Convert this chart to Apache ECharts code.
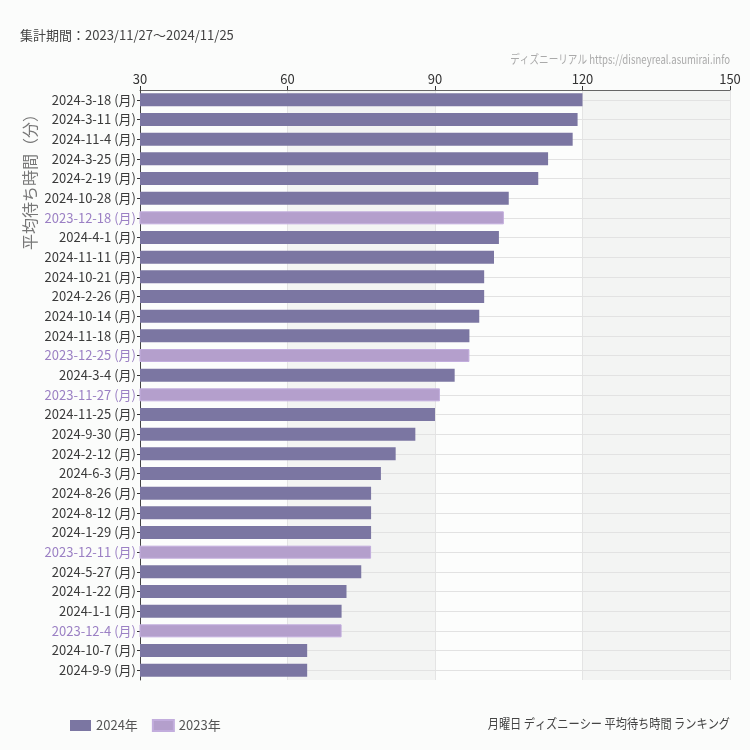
<!DOCTYPE html>
<html>
<head>
<meta charset="utf-8">
<script src="https://cdn.jsdelivr.net/npm/echarts@6/dist/echarts.min.js"></script>
<style>html,body{margin:0;padding:0;background:#fbfcfb;}#c{width:750px;height:750px;}</style>
</head>
<body>
<div id="c"></div>
<script>
const dates = ['2024-3-18','2024-3-11','2024-11-4','2024-3-25','2024-2-19','2024-10-28','2023-12-18','2024-4-1','2024-11-11','2024-10-21','2024-2-26','2024-10-14','2024-11-18','2023-12-25','2024-3-4','2023-11-27','2024-11-25','2024-9-30','2024-2-12','2024-6-3','2024-8-26','2024-8-12','2024-1-29','2023-12-11','2024-5-27','2024-1-22','2024-1-1','2023-12-4','2024-10-7','2024-9-9'];
const waits = [120,119,118,113,111,105,104,103,102,100,100,99,97,97,94,91,90,86,82,79,77,77,77,77,75,72,71,71,64,64];
const xTicks = [30,60,90,120,150];
const seriesNames = ['2024年','2023年'];

const FONT = '"Noto Sans CJK JP", "Noto Sans", sans-serif';
const C24 = '#7b76a2', C23 = '#b49fcc';
const labels = dates.map(d => d + ' (月)');
const is23 = dates.map(d => d.startsWith('2023'));
const s24 = waits.map((v,i) => is23[i] ? '-' : v);
const s23 = waits.map((v,i) => is23[i] ? v : '-');

const chart = echarts.init(document.getElementById('c'), null, {renderer:'canvas'});
chart.setOption({
  backgroundColor: '#fbfcfb',
  animation: false,
  textStyle: {fontFamily: FONT},
  grid: {left: 140, right: 20, top: 90, bottom: 70, containLabel: false},
  legend: {
    data: seriesNames, left: 65, bottom: 13, itemWidth: 21, itemHeight: 11, itemGap: 14,
    textStyle: {fontSize: 13, color: '#555', fontFamily: FONT}, icon: 'rect'
  },
  graphic: [
    {type:'text', left: 20, top: 29, style:{text:'集計期間：2023/11/27〜2024/11/25', fill:'#444', font:'13px ' + FONT}},
    {type:'text', right: 20, top: 53, scaleX: 0.8, style:{text:'ディズニーリアル https://disneyreal.asumirai.info', fill:'#aaa', font:'12px ' + FONT}},
    {type:'text', right: 20, top: 717, scaleX: 0.86, style:{text:'月曜日 ディズニーシー 平均待ち時間 ランキング', fill:'#444', font:'13px ' + FONT}},
    {type:'text', left: 22, top: 106, rotation: Math.PI/2, style:{text:'平均待ち時間（分）', fill:'#777', font:'16px ' + FONT}}
  ],
  xAxis: {
    type: 'value', position: 'top', min: xTicks[0], max: xTicks[xTicks.length-1], interval: 30, z: 0,
    axisLine: {show: true, lineStyle: {color: '#666'}},
    axisTick: {show: true, length: 4, lineStyle: {color: '#333'}},
    axisLabel: {fontSize: 13, color: '#333', margin: 4, fontFamily: FONT},
    splitLine: {show: true, lineStyle: {color: '#e4e4e4'}},
    splitArea: {show: true, areaStyle: {color: ['#fcfdfc', '#f3f4f3']}}
  },
  yAxis: {
    type: 'category', inverse: true, data: labels, z: 1,
    axisLine: {show: true, lineStyle: {color: '#444'}},
    axisTick: {show: true, length: 3, alignWithLabel: true, lineStyle: {color: '#333'}},
    axisLabel: {
      fontSize: 13, margin: 4, fontFamily: FONT, interval: 0,
      color: (v, i) => (String(v).startsWith('2023') ? '#9b80c4' : '#3a3a3a')
    },
    splitLine: {show: true, alignWithLabel: true, lineStyle: {color: '#e2e2e2'}}
  },
  series: [
    {name: seriesNames[0], type: 'bar', stack: 's', data: s24, barWidth: 13, z: 3,
     itemStyle: {color: C24}},
    {name: seriesNames[1], type: 'bar', stack: 's', data: s23, barWidth: 13, z: 3,
     itemStyle: {color: C23, borderColor: '#c2addd', borderWidth: 1}}
  ]
});
</script>
</body>
</html>
